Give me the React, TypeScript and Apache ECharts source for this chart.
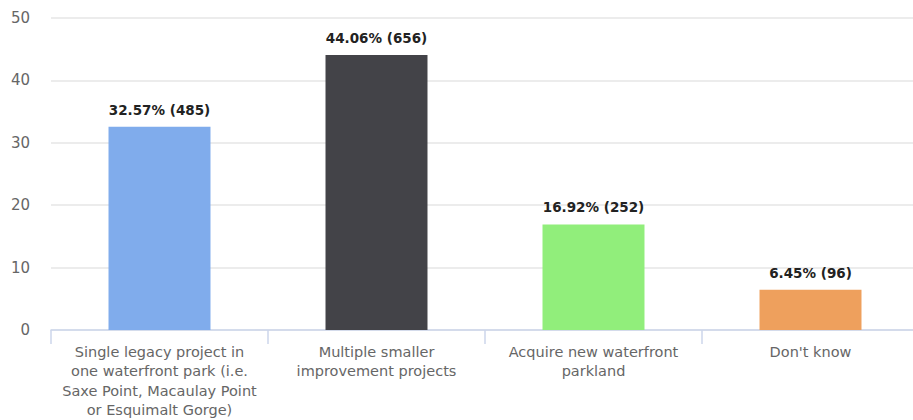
import React, { useEffect, useRef } from "react";
import * as echarts from "echarts";

const categories = [
  "Single legacy project in\none waterfront park (i.e.\nSaxe Point, Macaulay Point\nor Esquimalt Gorge)",
  "Multiple smaller\nimprovement projects",
  "Acquire new waterfront\nparkland",
  "Don't know",
];
const percents = [32.57, 44.06, 16.92, 6.45];
const counts = [485, 656, 252, 96];
const colors = ["#80acec", "#434348", "#91ee7b", "#eea05d"];
const yTicks = { min: 0, max: 50, interval: 10 };

export default function App() {
  const ref = useRef<HTMLDivElement>(null);
  useEffect(() => {
    if (!ref.current) return;
    const chart = echarts.init(ref.current, undefined, { renderer: "svg" });
    chart.setOption({
      animation: false,
      grid: { left: 51, right: -6, top: 18, bottom: 90, containLabel: false, outerBoundsMode: "none" },
      xAxis: {
        type: "category",
        data: categories,
        axisLine: { lineStyle: { color: "#ccd6eb", width: 1.5 } },
        axisTick: { show: true, length: 14, lineStyle: { color: "#ccd6eb", width: 1.5 }, alignWithLabel: false },
        axisLabel: {
          color: "#666666",
          fontFamily: "DejaVu Sans",
          fontSize: 14.5,
          lineHeight: 19.5,
          margin: 12,
          interval: 0,
        },
      },
      yAxis: {
        type: "value",
        min: yTicks.min,
        max: yTicks.max,
        interval: yTicks.interval,
        axisLine: { show: false },
        axisTick: { show: false },
        axisLabel: {
          color: "#666666",
          fontFamily: "DejaVu Sans",
          fontSize: 15,
          margin: 21,
        },
        splitLine: { lineStyle: { color: "#e6e6e6", width: 1.5 } },
      },
      series: [
        {
          type: "bar",
          barWidth: "47%",
          data: percents.map((v, i) => ({ value: v, itemStyle: { color: colors[i] } })),
          label: {
            show: true,
            position: "top",
            distance: 10,
            color: "#222222",
            fontFamily: "DejaVu Sans",
            fontWeight: "bold",
            fontSize: 13.5,
            formatter: (p: any) => `${percents[p.dataIndex].toFixed(2)}% (${counts[p.dataIndex]})`,
          },
        },
      ],
    });
    return () => chart.dispose();
  }, []);
  return <div ref={ref} style={{ width: 913, height: 420, position: "absolute", left: 0, top: 0 }} />;
}
